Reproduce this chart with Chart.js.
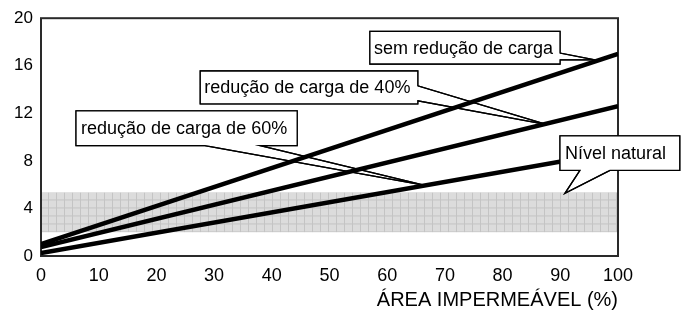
<!DOCTYPE html>
<html>
<head>
<meta charset="utf-8">
<script src="https://cdn.jsdelivr.net/npm/chart.js@4"></script>
<style>
  body { margin: 0; background: #fff; }
  #wrap { width: 681px; height: 320px; }
</style>
</head>
<body>
<div id="wrap"><canvas id="cargaChart"></canvas></div>
<script>
// values
const areaImpermeavel = [0, 100];
const semReducao = [1.0, 17.0];
const reducao40 = [0.75, 12.6];
const reducao60 = [0.25, 8.8];
const nivelNatural = [2.0, 5.35];   // low / high of the grey band
const xTicks = [0, 10, 20, 30, 40, 50, 60, 70, 80, 90, 100];
const yTicks = [0, 4, 8, 12, 16, 20];
const calloutTexts = ['sem redução de carga', 'redução de carga de 40%', 'redução de carga de 60%', 'Nível natural'];

// callout boxes in data units (box corners, pointer base on one side, pointer tip)
const calloutBoxes = [
  { x0: 57.0, x1: 89.95, y0: 18.9, y1: 16.15, side: 'right', base: [17.07, 16.49], tip: [96.0, 16.5], pad: 4 },
  { x0: 27.6, x1: 65.3, y0: 15.56, y1: 12.8, side: 'right', base: [14.31, 13.05], tip: [87.7, 11.05], pad: 4 },
  { x0: 6.07, x1: 44.4, y0: 12.2, y1: 9.29, side: 'bottom', base: [28.4, 38.0], tip: [66.55, 5.94], pad: 5 },
  { x0: 89.95, x1: 110.7, y0: 10.1, y1: 7.2, side: 'bottom', base: [93.4, 98.6], tip: [90.8, 5.27], pad: 5 }
];

const FONT = '"Liberation Sans", Arial, sans-serif';

function toPoints(ys) {
  return areaImpermeavel.map((x, i) => ({ x: x, y: ys[i] }));
}

function makeGridPattern(ctx) {
  const c = document.createElement('canvas');
  c.width = 8; c.height = 8;
  const p = c.getContext('2d');
  p.fillStyle = '#dcdcdc';
  p.fillRect(0, 0, 8, 8);
  p.fillStyle = '#c4c4c4';
  p.fillRect(7, 0, 1, 8);
  p.fillRect(0, 7, 8, 1);
  return ctx.createPattern(c, 'repeat');
}

function calloutPath(ctx, b, xs, ys) {
  const L = xs.getPixelForValue(b.x0), R = xs.getPixelForValue(b.x1);
  const T = ys.getPixelForValue(b.y0), B = ys.getPixelForValue(b.y1);
  const tx = xs.getPixelForValue(b.tip[0]), ty = ys.getPixelForValue(b.tip[1]);
  ctx.beginPath();
  ctx.moveTo(L, T);
  ctx.lineTo(R, T);
  if (b.side === 'right') {
    ctx.lineTo(R, ys.getPixelForValue(b.base[0]));
    ctx.lineTo(tx, ty);
    ctx.lineTo(R, ys.getPixelForValue(b.base[1]));
    ctx.lineTo(R, B);
    ctx.lineTo(L, B);
  } else {
    ctx.lineTo(R, B);
    ctx.lineTo(xs.getPixelForValue(b.base[1]), B);
    ctx.lineTo(tx, ty);
    ctx.lineTo(xs.getPixelForValue(b.base[0]), B);
    ctx.lineTo(L, B);
  }
  ctx.closePath();
  return { L, R, T, B };
}

const backdrop = {
  id: 'backdrop',
  beforeDatasetsDraw(chart) {
    const { ctx, chartArea: a, scales: { x, y } } = chart;
    ctx.save();
    // grey band with fine grid
    const top = y.getPixelForValue(nivelNatural[1]);
    const bot = y.getPixelForValue(nivelNatural[0]);
    ctx.translate(a.left, top);
    ctx.fillStyle = makeGridPattern(ctx);
    ctx.fillRect(0, 0, a.right - a.left, bot - top);
    ctx.setTransform(1, 0, 0, 1, 0, 0);
    // plot frame
    ctx.strokeStyle = '#2a2a2a';
    ctx.lineWidth = 2;
    ctx.strokeRect(a.left, a.top, a.right - a.left, a.bottom - a.top);
    // pointer wedges under the lines
    ctx.lineWidth = 1.3;
    ctx.strokeStyle = '#000';
    ctx.fillStyle = '#fff';
    calloutBoxes.forEach(b => {
      calloutPath(ctx, b, x, y);
      ctx.fill();
      ctx.stroke();
    });
    ctx.restore();
  },
  afterDatasetsDraw(chart) {
    const { ctx, scales: { x, y } } = chart;
    ctx.save();
    ctx.lineWidth = 1.3;
    ctx.strokeStyle = '#000';
    ctx.font = '18px ' + FONT;
    ctx.textBaseline = 'middle';
    ctx.textAlign = 'left';
    calloutBoxes.forEach((b, i) => {
      const r = calloutPath(ctx, b, x, y);
      ctx.fillStyle = '#fff';
      ctx.fillRect(r.L, r.T, r.R - r.L, r.B - r.T);
      ctx.stroke();
      ctx.fillStyle = '#000';
      ctx.fillText(calloutTexts[i], r.L + b.pad, (r.T + r.B) / 2 + 1);
    });
    ctx.restore();
  }
};

const lineStyle = { borderColor: '#000', borderWidth: 4.5, pointRadius: 0, tension: 0, fill: false };

new Chart(document.getElementById('cargaChart'), {
  type: 'line',
  data: {
    datasets: [
      Object.assign({ label: calloutTexts[0], data: toPoints(semReducao) }, lineStyle),
      Object.assign({ label: calloutTexts[1], data: toPoints(reducao40) }, lineStyle),
      Object.assign({ label: calloutTexts[2], data: toPoints(reducao60) }, lineStyle)
    ]
  },
  options: {
    responsive: true,
    maintainAspectRatio: false,
    animation: false,
    layout: { padding: { top: 17, right: 63, left: 0, bottom: 0 } },
    plugins: { legend: { display: false }, tooltip: { enabled: false } },
    scales: {
      x: {
        type: 'linear',
        min: 0, max: 100,
        afterBuildTicks: s => { s.ticks = xTicks.map(v => ({ value: v })); },
        afterFit: s => { s.height = 64; },
        grid: { display: false, drawTicks: false },
        border: { display: false },
        ticks: { color: '#000', font: { family: FONT, size: 18 }, padding: 9, maxRotation: 0, autoSkip: false },
        title: {
          display: true,
          text: 'ÁREA IMPERMEÁVEL (%)',
          align: 'end',
          color: '#000',
          font: { family: FONT, size: 20 },
          padding: { top: 0, bottom: 8 }
        }
      },
      y: {
        min: 0, max: 20,
        afterBuildTicks: s => { s.ticks = yTicks.map(v => ({ value: v })); },
        afterFit: s => { s.width = 41; },
        grid: { display: false, drawTicks: false },
        border: { display: false },
        ticks: { color: '#000', font: { family: FONT, size: 17 }, padding: 8 }
      }
    }
  },
  plugins: [backdrop]
});
</script>
</body>
</html>
